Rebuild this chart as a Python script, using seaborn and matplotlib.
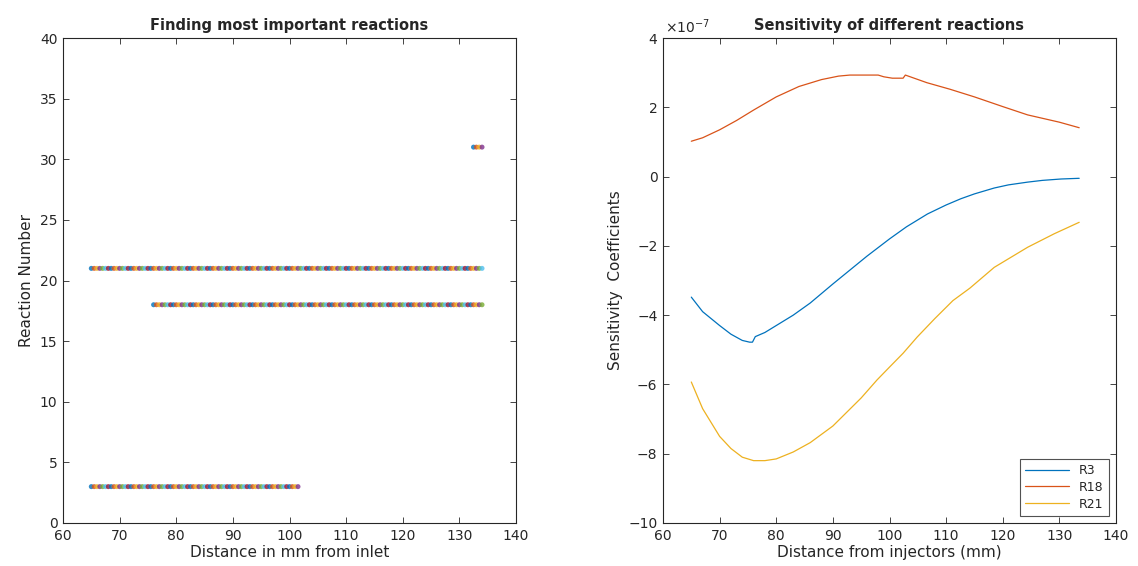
import numpy as np
import pandas as pd
import matplotlib
matplotlib.use("Agg")
import matplotlib.pyplot as plt
import seaborn as sns

# Left panel: reactions flagged as important along the reactor
reaction_ids = [3, 18, 21, 31]
reaction_start_mm = [65.0, 76.0, 65.0, 132.5]
reaction_end_mm = [101.5, 134.0, 134.0, 134.0]
distance_step_mm = 0.5

# Right panel: sensitivity coefficients (units of 1e-7)
r3_x = [65, 67, 70, 72, 74, 75.3, 75.8, 76.3, 78, 80, 83, 86, 90, 93, 96, 100, 103, 106.7, 110, 112.6, 115, 118.5, 121, 124.4, 127, 130.3, 133.5]
r3_y = [-3.48, -3.9, -4.3, -4.55, -4.73, -4.78, -4.78, -4.62, -4.5, -4.3, -4.0, -3.65, -3.1, -2.7, -2.3, -1.8, -1.45, -1.08, -0.82, -0.64, -0.5, -0.33, -0.24, -0.16, -0.11, -0.07, -0.05]

r18_x = [65, 67, 70, 73, 76, 80, 84, 88, 91, 93, 98, 99, 100.5, 102.4, 102.8, 106.6, 110.7, 115, 120, 124.4, 130, 133.5]
r18_y = [1.02, 1.12, 1.35, 1.62, 1.92, 2.3, 2.6, 2.8, 2.9, 2.93, 2.93, 2.88, 2.84, 2.84, 2.93, 2.71, 2.52, 2.3, 2.02, 1.78, 1.57, 1.41]

r21_x = [65, 67, 70, 72, 74, 76, 78, 80, 83, 86, 90, 95, 97.8, 100, 102.4, 104.9, 108, 111.2, 114.2, 118.5, 124.4, 129.1, 133.5]
r21_y = [-5.93, -6.7, -7.5, -7.85, -8.1, -8.2, -8.2, -8.15, -7.95, -7.68, -7.2, -6.39, -5.87, -5.5, -5.1, -4.63, -4.1, -3.58, -3.22, -2.62, -2.04, -1.65, -1.32]

matlab_colors = ["#0072BD", "#D95319", "#EDB120", "#7E2F8E", "#77AC30", "#4DBEEE", "#A2142F"]
axis_gray = "#262626"

sns.set_theme(style="white")
plt.rcParams.update({
    "font.family": ["DejaVu Sans"],
    "axes.edgecolor": axis_gray,
    "axes.labelcolor": axis_gray,
    "xtick.color": axis_gray,
    "ytick.color": axis_gray,
    "axes.linewidth": 0.8,
})

fig = plt.figure(figsize=(11.38, 5.66), dpi=100)
ax1 = fig.add_axes([63 / 1138, 1 - 523 / 566, 453 / 1138, 485 / 566])
ax2 = fig.add_axes([663 / 1138, 1 - 523 / 566, 453 / 1138, 485 / 566])

# Build the scatter table for the left panel
rows = []
for rid, s, e in zip(reaction_ids, reaction_start_mm, reaction_end_mm):
    xs = np.arange(s, e + 1e-9, distance_step_mm)
    for i, x in enumerate(xs):
        rows.append({"distance": x, "reaction": rid, "series": i % len(matlab_colors)})
dots = pd.DataFrame(rows)

sns.scatterplot(data=dots, x="distance", y="reaction", hue="series",
                palette=matlab_colors, legend=False, s=13, marker="o",
                linewidth=0, alpha=0.8, ax=ax1)
ax1.set_xlim(60, 140)
ax1.set_ylim(0, 40)
ax1.set_xticks(np.arange(60, 141, 10))
ax1.set_yticks(np.arange(0, 41, 5))
ax1.set_xlabel("Distance in mm from inlet", fontsize=11, labelpad=2)
ax1.set_ylabel("Reaction Number", fontsize=11, labelpad=4)
ax1.set_title("Finding most important reactions", fontsize=10.5, fontweight="bold", pad=6)

# Right panel lines
lines = pd.concat([
    pd.DataFrame({"distance": r3_x, "sens": r3_y, "reaction": "R3"}),
    pd.DataFrame({"distance": r18_x, "sens": r18_y, "reaction": "R18"}),
    pd.DataFrame({"distance": r21_x, "sens": r21_y, "reaction": "R21"}),
])
sns.lineplot(data=lines, x="distance", y="sens", hue="reaction",
             palette=matlab_colors[:3], linewidth=0.9, ax=ax2, sort=False)
ax2.set_xlim(60, 140)
ax2.set_ylim(-10, 4)
ax2.set_xticks(np.arange(60, 141, 10))
ax2.set_yticks(np.arange(-10, 5, 2))
ax2.set_xlabel("Distance from injectors (mm)", fontsize=11, labelpad=2)
ax2.set_ylabel("Sensitivity  Coefficients", fontsize=11, labelpad=4)
ax2.set_title("Sensitivity of different reactions", fontsize=10.5, fontweight="bold", pad=6)
ax2.text(0.005, 1.005, r"$\times10^{-7}$", transform=ax2.transAxes,
         fontsize=10, color=axis_gray, ha="left", va="bottom")
leg = ax2.legend(loc="lower right", fontsize=9, frameon=True, fancybox=False,
                 edgecolor=axis_gray, handlelength=3.5, borderpad=0.4,
                 labelspacing=0.3, borderaxespad=0.6)
leg.get_frame().set_linewidth(0.8)

for ax in (ax1, ax2):
    for sp in ax.spines.values():
        sp.set_visible(True)
        sp.set_color(axis_gray)
    ax.tick_params(direction="in", length=4, width=0.6, labelsize=10,
                   top=True, right=True, bottom=True, left=True, pad=4)

fig.savefig("out.png", dpi=100, facecolor="white")
